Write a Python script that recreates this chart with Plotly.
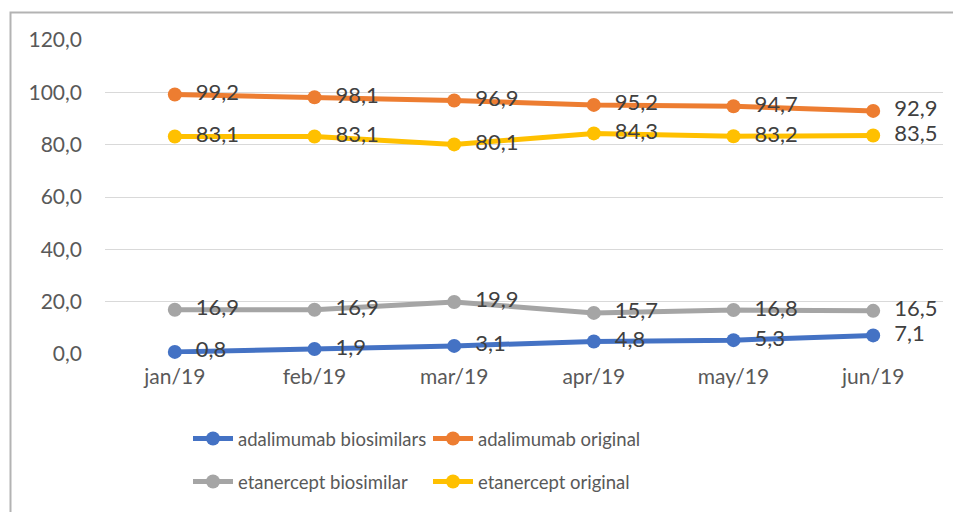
import plotly.graph_objects as go

months = ["jan/19", "feb/19", "mar/19", "apr/19", "may/19", "jun/19"]
ada_bio = [0.8, 1.9, 3.1, 4.8, 5.3, 7.1]
ada_orig = [99.2, 98.1, 96.9, 95.2, 94.7, 92.9]
eta_bio = [16.9, 16.9, 19.9, 15.7, 16.8, 16.5]
eta_orig = [83.1, 83.1, 80.1, 84.3, 83.2, 83.5]

series = [
    ("adalimumab biosimilars", ada_bio, "#4472C4", "legend"),
    ("adalimumab original", ada_orig, "#ED7D31", "legend"),
    ("etanercept biosimilar", eta_bio, "#A5A5A5", "legend2"),
    ("etanercept original", eta_orig, "#FFC000", "legend2"),
]

FONT = "Lato"
NB = "\u00a0"
fig = go.Figure()
for name, vals, color, lg in series:
    fig.add_trace(go.Scatter(
        x=months, y=vals, name=name, mode="lines+markers+text",
        line=dict(color=color, width=5),
        marker=dict(color=color, size=14),
        texttemplate=NB * 2 + "%{y:.1f}", textposition="middle right",
        textfont=dict(family=FONT, size=22, color="#404040"),
        legend=lg, cliponaxis=False,
    ))

# page body has an 8px margin; figure coordinates = reference pixel - 8
OFF = 8
W, H = 961 - OFF, 512 - OFF
ml, mt = 105 - OFF, 40 - OFF
plot_right, plot_bottom = 943 - OFF, 354 - OFF
mr, mb = W - plot_right, H - plot_bottom
pw, ph = W - ml - mr, H - mt - mb

def px(x):
    return (x - OFF - ml) / pw

def py(y):
    return (H - mb - (y - OFF)) / ph

legend_common = dict(
    orientation="h", xanchor="left", yanchor="middle",
    entrywidth=185, entrywidthmode="pixels",
    font=dict(family=FONT, size=18.5, color="#595959"),
    bgcolor="rgba(0,0,0,0)", itemwidth=40,
)

fig.update_layout(
    width=W, height=H,
    margin=dict(l=ml, r=mr, t=mt, b=mb, autoexpand=False),
    paper_bgcolor="white", plot_bgcolor="white",
    separators=", ",
    font=dict(family=FONT, color="#595959"),
    showlegend=True,
    legend=dict(x=px(188), y=py(439), **legend_common),
    legend2=dict(x=px(188), y=py(482), **legend_common),
    xaxis=dict(
        type="category", range=[-0.5, 5.5], showgrid=False, showline=False,
        zeroline=False, ticks="", tickfont=dict(family=FONT, size=21, color="#595959"),
        ticklabelstandoff=8,
    ),
    yaxis=dict(
        range=[0, 120], dtick=20, tickformat=".1f", showgrid=True,
        gridcolor="#D9D9D9", gridwidth=1, zeroline=False, showline=False,
        ticks="", tickfont=dict(family=FONT, size=21, color="#595959"),
        ticklabelstandoff=22,
    ),
    shapes=[dict(
        type="rect", xref="paper", yref="paper",
        x0=px(10.5), x1=px(975), y0=py(530), y1=py(12.5),
        line=dict(color="#B3B3B3", width=2), layer="below",
    )],
)

fig.write_html("out.html")
